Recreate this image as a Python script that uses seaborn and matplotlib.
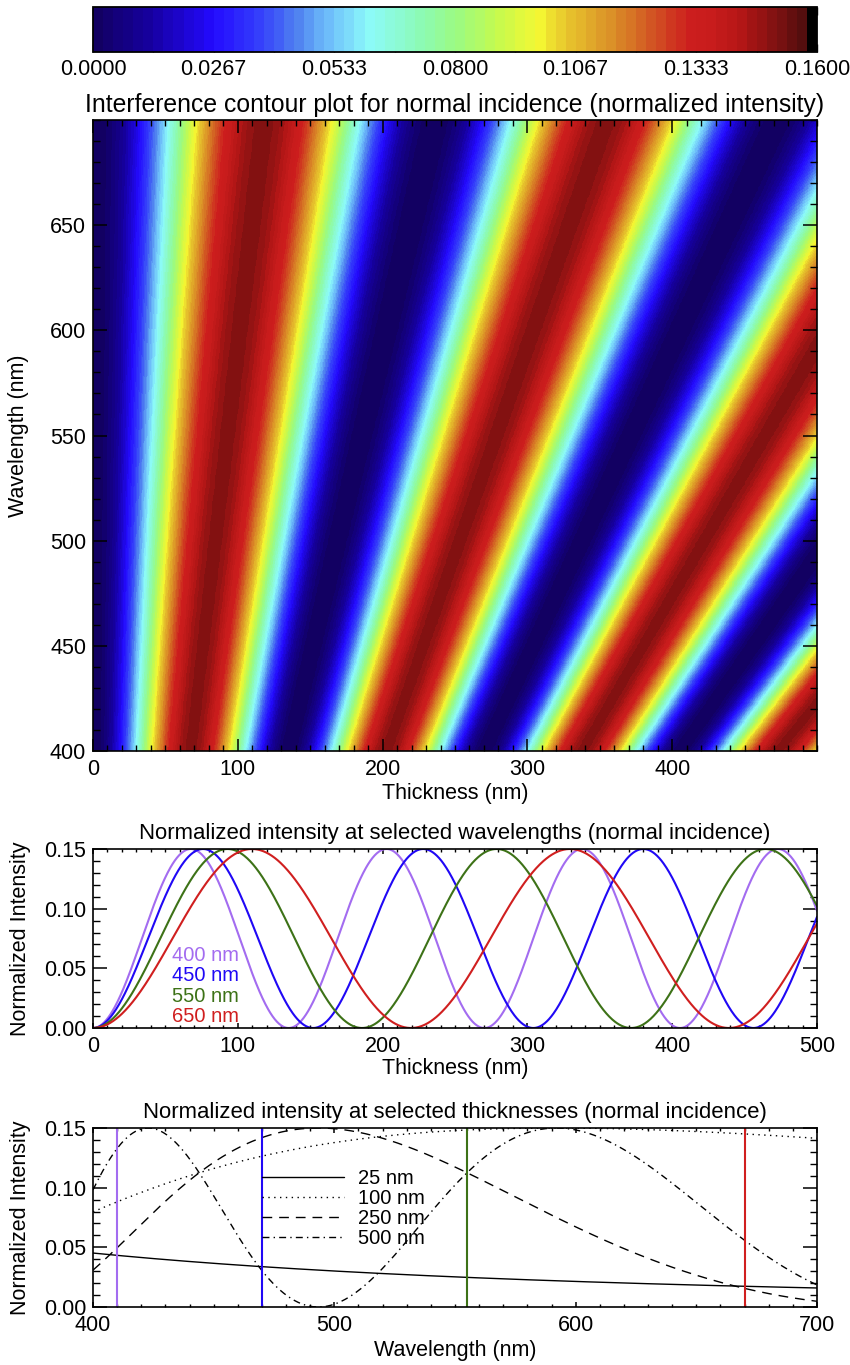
import numpy as np
import pandas as pd
import matplotlib
matplotlib.use("Agg")
import matplotlib.pyplot as plt
from matplotlib.colors import LinearSegmentedColormap, ListedColormap
from matplotlib.ticker import MultipleLocator, FixedLocator
import seaborn as sns

# ---------------- values ----------------
film_index = 1.48            # fringe period = wavelength / (2 * n)
peak_intensity = 0.15        # maximum normalized intensity
thickness_range = [0, 500]
wavelength_range = [400, 700]

selected_wavelengths = [400, 450, 550, 650]
wavelength_labels = ["400 nm", "450 nm", "550 nm", "650 nm"]
wavelength_colors = ["#A36CF0", "#2008F5", "#3D7217", "#D01F1F"]

selected_thicknesses = [25, 100, 250, 500]
thickness_labels = ["25 nm", "100 nm", "250 nm", "500 nm"]
thickness_styles = ["-", (0, (1, 3.2)), (0, (7, 5)), (0, (5, 3, 1, 3))]

marker_wavelengths = [410, 470, 555, 670]

cbar_ticks = [0.0, 0.16 / 6, 0.32 / 6, 0.08, 0.64 / 6, 0.8 / 6, 0.16]
cbar_ticklabels = ["0.0000", "0.0267", "0.0533", "0.0800", "0.1067", "0.1333", "0.1600"]
heat_xticks = [0, 100, 200, 300, 400]
heat_yticks = [400, 450, 500, 550, 600, 650]
line_xticks = [0, 100, 200, 300, 400, 500]
spec_xticks = [400, 500, 600, 700]
intensity_ticks = [0.0, 0.05, 0.10, 0.15]
intensity_ticklabels = ["0.00", "0.05", "0.10", "0.15"]


def intensity(d, lam):
    return peak_intensity * np.sin(2 * np.pi * film_index * d / lam) ** 2


# ---------------- style ----------------
sns.set_theme(style="ticks")
plt.rcParams["font.family"] = ["Liberation Sans", "DejaVu Sans"]
plt.rcParams["axes.linewidth"] = 1.2
plt.rcParams["axes.edgecolor"] = "black"
plt.rcParams["text.color"] = "black"
plt.rcParams["axes.labelcolor"] = "black"
plt.rcParams["axes.titlecolor"] = "black"
plt.rcParams["xtick.color"] = "black"
plt.rcParams["ytick.color"] = "black"
FS_TICK = 15.5
FS_LABEL = 15.5
FS_SUB = 15.9
FS_MAIN = 17.8
FS_LEG = 14.5

anchors = [
    (0.000, (18, 0, 95)), (0.080, (22, 0, 160)), (0.167, (35, 10, 255)),
    (0.240, (55, 70, 250)), (0.285, (80, 130, 240)), (0.330, (110, 190, 250)),
    (0.385, (140, 250, 250)), (0.460, (140, 250, 180)), (0.510, (155, 250, 130)),
    (0.565, (195, 250, 80)), (0.625, (245, 248, 50)), (0.660, (232, 200, 45)),
    (0.720, (220, 150, 40)), (0.780, (210, 90, 35)), (0.835, (205, 30, 30)),
    (0.870, (200, 28, 28)), (0.910, (178, 22, 22)), (0.950, (135, 18, 18)),
    (0.980, (100, 15, 15)), (1.000, (80, 14, 14)),
]
base = LinearSegmentedColormap.from_list(
    "idl", [(t, tuple(c / 255 for c in rgb)) for t, rgb in anchors])
nb = 72
cols = [base((i + 0.5) / (nb - 1)) for i in range(nb - 1)] + [(0, 0, 0, 1)]
cmap = ListedColormap(cols)

W, H = 850, 1365
fig = plt.figure(figsize=(W / 100, H / 100), dpi=100)


def rect(x0, y0, x1, y1):
    return [x0 / W, 1 - y1 / H, (x1 - x0) / W, (y1 - y0) / H]


cax = fig.add_axes(rect(93, 7, 817, 52))
ax1 = fig.add_axes(rect(93, 120, 817, 751))
ax2 = fig.add_axes(rect(93, 849, 817, 1028))
ax3 = fig.add_axes(rect(93, 1128, 817, 1307))

# ---------------- heat map ----------------
d_c = np.linspace(thickness_range[0] + 0.25, thickness_range[1] - 0.25, 1000)
l_c = np.linspace(wavelength_range[0] + 0.25, wavelength_range[1] - 0.25, 600)
D, L = np.meshgrid(d_c, l_c)
Z = intensity(D, L)
im = ax1.imshow(Z, origin="lower", aspect="auto", cmap=cmap, vmin=0, vmax=0.16,
                extent=[*thickness_range, *wavelength_range], interpolation="nearest")
ax1.set_xlim(*thickness_range)
ax1.set_ylim(*wavelength_range)
ax1.set_title("Interference contour plot for normal incidence (normalized intensity)",
              fontsize=FS_MAIN, pad=6, color="black")
ax1.xaxis.set_major_locator(FixedLocator(heat_xticks))
ax1.yaxis.set_major_locator(FixedLocator(heat_yticks))
ax1.xaxis.set_minor_locator(MultipleLocator(10))
ax1.yaxis.set_minor_locator(MultipleLocator(10))
ax1.set_xlabel("Thickness (nm)", fontsize=FS_LABEL, color="black")
ax1.set_ylabel("Wavelength (nm)", fontsize=FS_LABEL, color="black")
ax1.tick_params(which="both", direction="in", top=True, right=True, labelsize=FS_TICK, colors="black")
ax1.tick_params(axis="x", which="major", length=9, width=1.1, pad=6)
ax1.tick_params(axis="x", which="minor", length=4.5, width=1.0)
ax1.tick_params(axis="y", which="major", length=10, width=1.1, pad=5)
ax1.tick_params(axis="y", which="minor", length=5, width=1.0)
ax1.yaxis.set_label_coords(-0.088, 0.5)
ax1.xaxis.set_label_coords(0.5, -0.050)

cb = fig.colorbar(im, cax=cax, orientation="horizontal")
cb.outline.set_linewidth(1.3)
cb.set_ticks(cbar_ticks)
cb.set_ticklabels(cbar_ticklabels)
cax.xaxis.set_minor_locator(MultipleLocator(0.16 / 12))
cax.tick_params(which="both", direction="in", top=True, bottom=True, length=6, width=1.0,
                labelsize=FS_TICK, pad=5, colors="black")

# ---------------- intensity vs thickness ----------------
d_line = np.linspace(thickness_range[0], thickness_range[1], 1001)
rows = []
for lam, lab in zip(selected_wavelengths, wavelength_labels):
    rows.append(pd.DataFrame({"thickness": d_line, "intensity": intensity(d_line, lam), "label": lab}))
df2 = pd.concat(rows, ignore_index=True)
sns.lineplot(data=df2, x="thickness", y="intensity", hue="label",
             palette=dict(zip(wavelength_labels, wavelength_colors)),
             hue_order=wavelength_labels, lw=1.5, legend=False, ax=ax2)
ax2.set_xlim(*thickness_range)
ax2.set_ylim(0, 0.15)
ax2.set_title("Normalized intensity at selected wavelengths (normal incidence)",
              fontsize=FS_SUB, pad=7, color="black")
ax2.set_xlabel("Thickness (nm)", fontsize=FS_LABEL, color="black")
ax2.set_ylabel("Normalized Intensity", fontsize=FS_LABEL, color="black")
ax2.xaxis.set_major_locator(FixedLocator(line_xticks))
ax2.xaxis.set_minor_locator(MultipleLocator(10))
ax2.set_yticks(intensity_ticks)
ax2.set_yticklabels(intensity_ticklabels)
ax2.yaxis.set_minor_locator(MultipleLocator(0.01))
for i, (lab, col) in enumerate(zip(wavelength_labels, wavelength_colors)):
    ax2.text(0.109, 0.405 - i * 0.114, lab, color=col, fontsize=FS_LEG,
             transform=ax2.transAxes, ha="left", va="center")

# ---------------- intensity vs wavelength ----------------
l_line = np.linspace(wavelength_range[0], wavelength_range[1], 601)
for th, lab, ls in zip(selected_thicknesses, thickness_labels, thickness_styles):
    sns.lineplot(x=l_line, y=intensity(th, l_line), color="black", lw=1.0,
                 linestyle=ls, label=lab, ax=ax3)
for wl, col in zip(marker_wavelengths, wavelength_colors):
    ax3.axvline(wl, color=col, lw=1.5)
ax3.set_xlim(*wavelength_range)
ax3.set_ylim(0, 0.15)
ax3.set_title("Normalized intensity at selected thicknesses (normal incidence)",
              fontsize=FS_SUB, pad=7, color="black")
ax3.set_xlabel("Wavelength (nm)", fontsize=FS_LABEL, color="black")
ax3.set_ylabel("Normalized Intensity", fontsize=FS_LABEL, color="black")
ax3.xaxis.set_major_locator(FixedLocator(spec_xticks))
ax3.xaxis.set_minor_locator(MultipleLocator(10))
ax3.set_yticks(intensity_ticks)
ax3.set_yticklabels(intensity_ticklabels)
ax3.yaxis.set_minor_locator(MultipleLocator(0.01))
handles = [l for l in ax3.get_lines()[:4]]
leg = ax3.legend(handles, thickness_labels, loc="upper left", bbox_to_anchor=(0.233, 0.773),
                 frameon=False, fontsize=FS_LEG, handlelength=4.1, handletextpad=0.7,
                 labelspacing=0.05, borderpad=0, borderaxespad=0)
for t in leg.get_texts():
    t.set_color("black")

for ax in (ax2, ax3):
    ax.tick_params(which="both", direction="in", top=True, right=True, labelsize=FS_TICK, colors="black")
    ax.tick_params(axis="x", which="major", length=3.5, width=1.1, pad=6)
    ax.tick_params(axis="x", which="minor", length=2, width=1.0)
    ax.tick_params(axis="y", which="major", length=10, width=1.1, pad=5)
    ax.tick_params(axis="y", which="minor", length=5, width=1.0)
    ax.yaxis.set_label_coords(-0.086, 0.5)
    for s in ax.spines.values():
        s.set_visible(True)
        s.set_linewidth(1.2)
ax2.xaxis.set_label_coords(0.5, -0.165)
ax3.xaxis.set_label_coords(0.5, -0.185)
for s in ax1.spines.values():
    s.set_linewidth(1.2)

fig.savefig("out.png", dpi=100)
